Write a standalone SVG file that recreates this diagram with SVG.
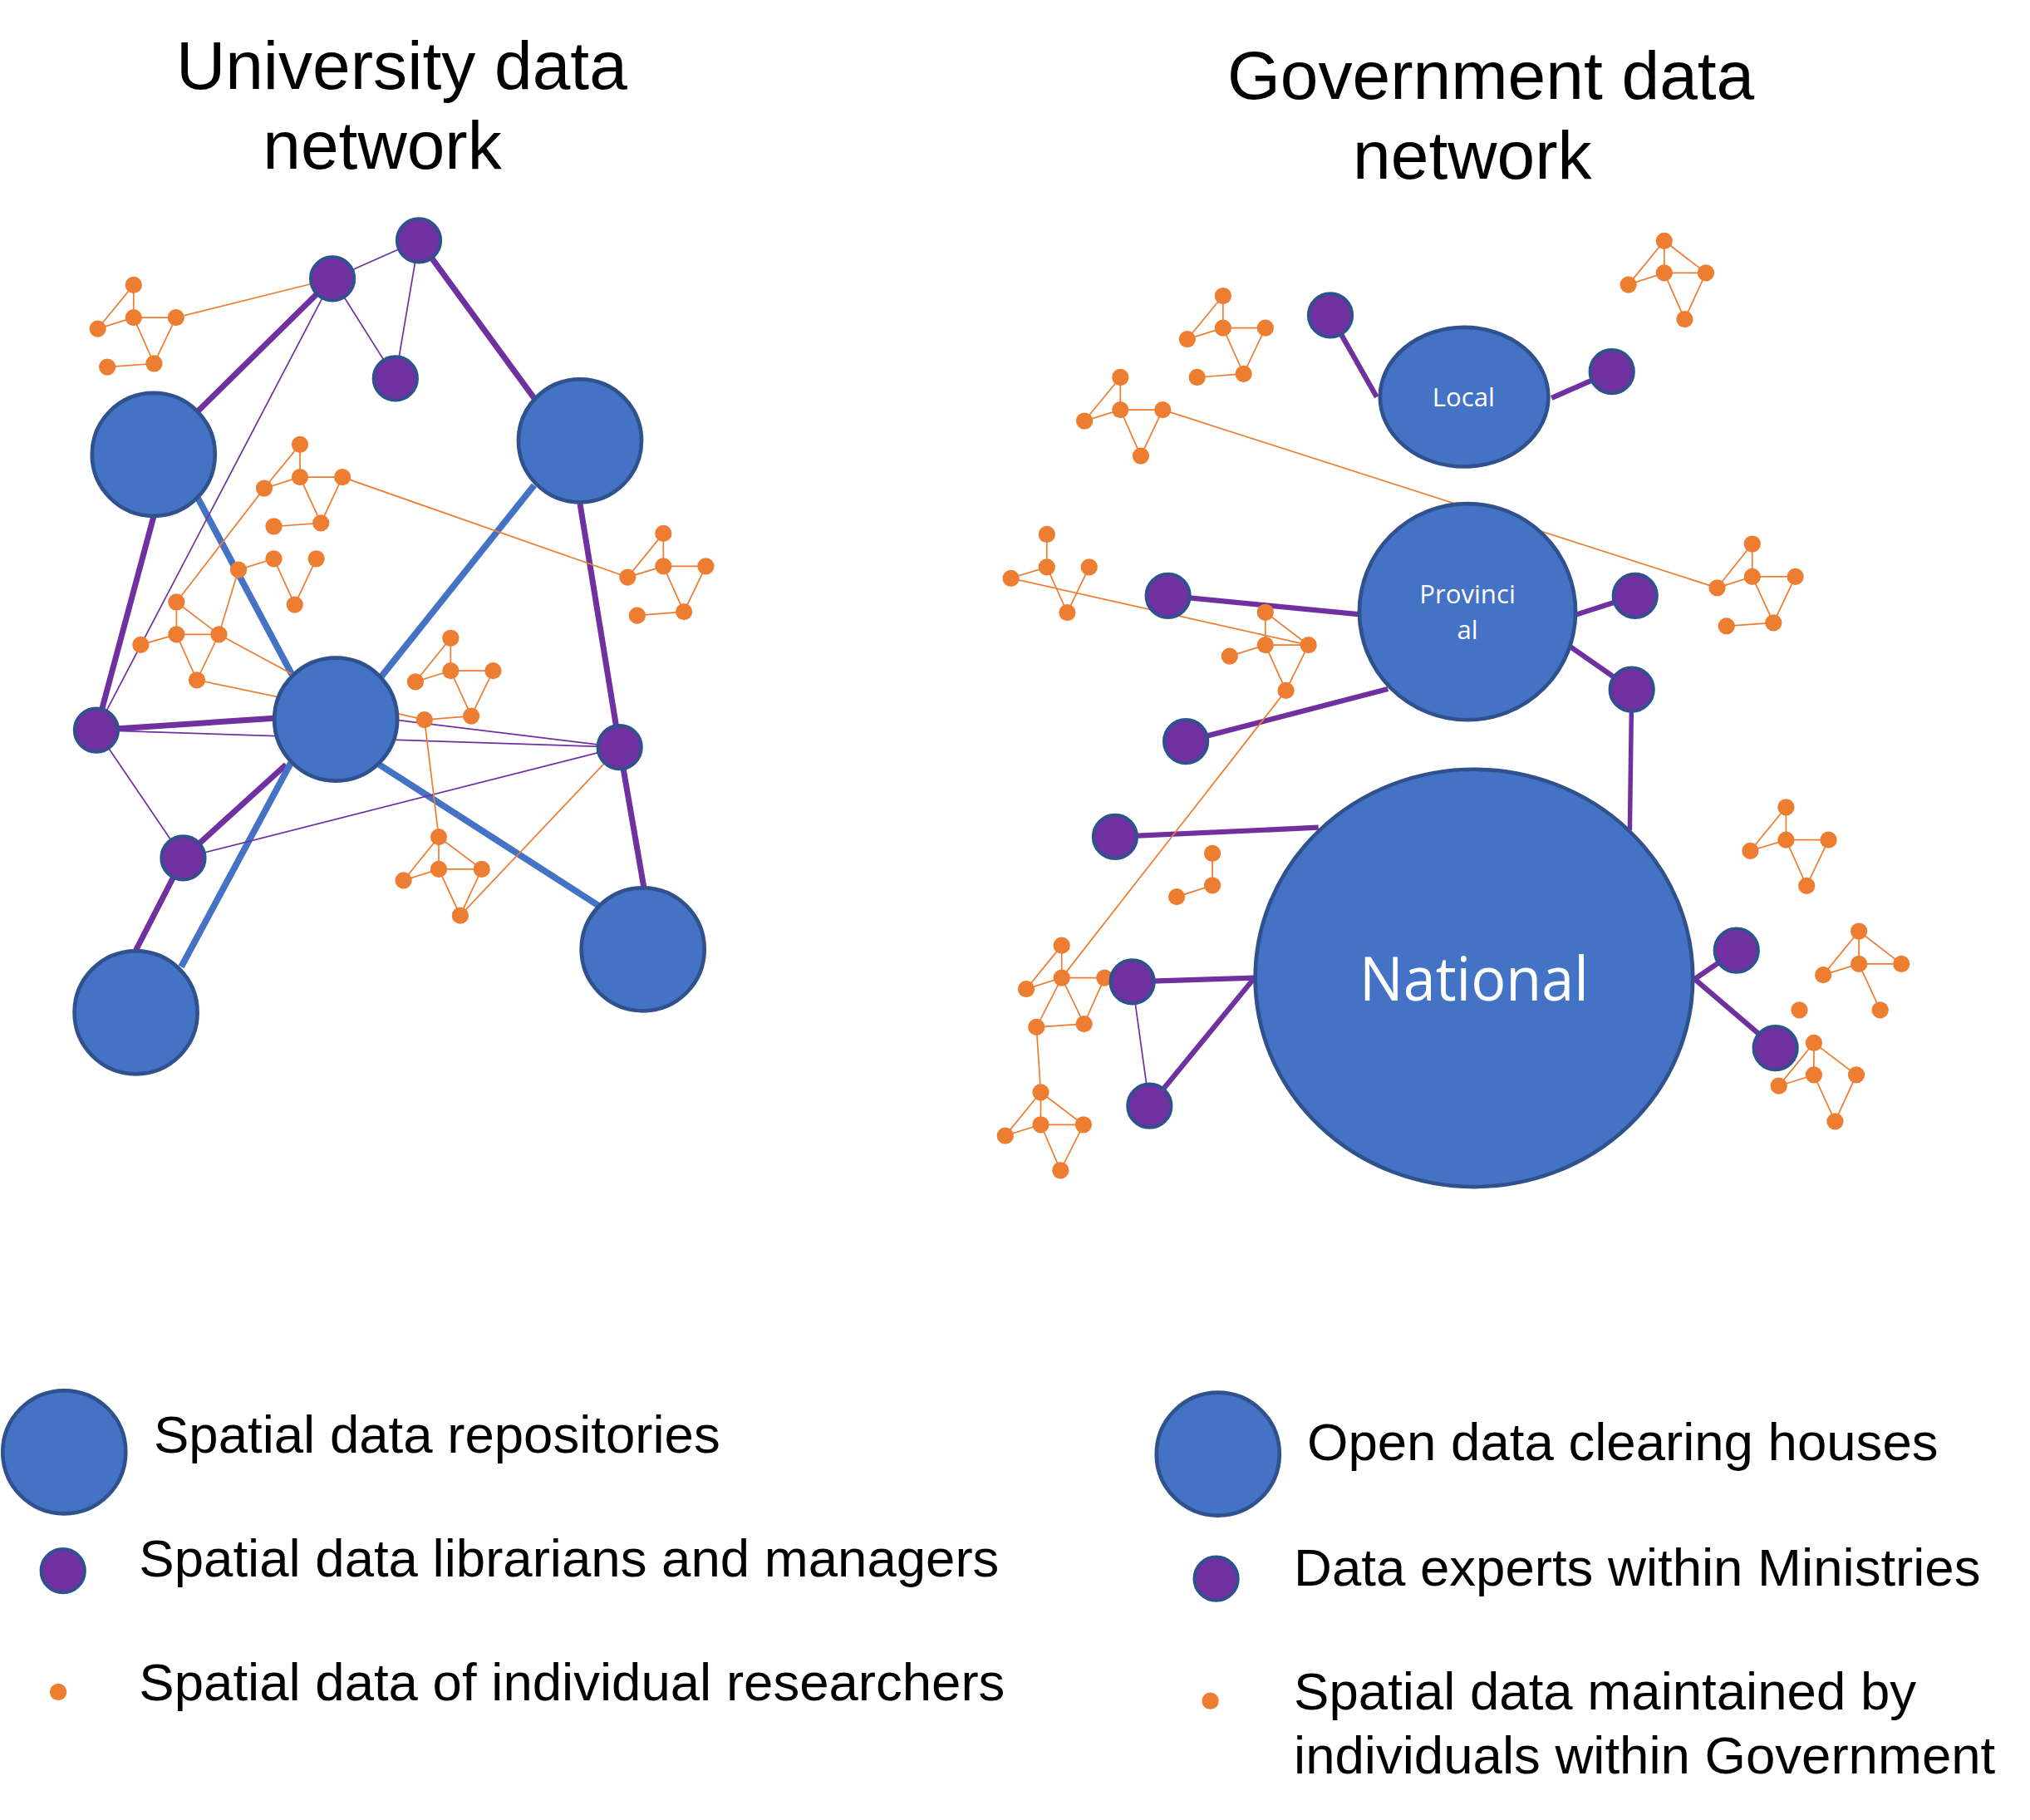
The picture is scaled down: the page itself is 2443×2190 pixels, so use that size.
<svg xmlns="http://www.w3.org/2000/svg" width="2443" height="2190" viewBox="0 0 2443 2190">
<style>
.blue{fill:#4472C4;stroke:#2F528F;stroke-width:3}
.purp{fill:#7030A0;stroke:#2F528F;stroke-width:2.5}
.dot{fill:#ED7D31}
.lp{stroke:#7030A0;stroke-width:4.5;fill:none}
.lp2{stroke:#7030A0;stroke-width:4;fill:none}
.lb{stroke:#4472C4;stroke-width:5;fill:none}
.lt{stroke:#7030A0;stroke-width:1.1;fill:none}
.lo{stroke:#ED7D31;stroke-width:1.1;fill:none}
.title{font-family:"Liberation Sans",Arial,sans-serif;font-size:52.7px;fill:#000}
.leg{font-family:"Liberation Sans",Arial,sans-serif;font-size:40.8px;fill:#000}
.lab{font-family:"Open Sans","Noto Sans",sans-serif;fill:#fff;text-anchor:middle}
</style>
<rect width="2443" height="2190" fill="#fff"/>
<g transform="scale(1.558)">
<g id="titles">
<text class="title" x="136" y="68.5">University data</text>
<text class="title" x="203" y="130">network</text>
<text class="title" x="948" y="76.5">Government data</text>
<text class="title" x="1045" y="138">network</text>
</g>
<g id="connectors">
<!-- university: thick purple -->
<line class="lp" x1="256.8" y1="215.2" x2="152.9" y2="317.5"/>
<line class="lp" x1="323.5" y1="185.7" x2="412.6" y2="307.5"/>
<line class="lp" x1="118.6" y1="399.1" x2="74.4" y2="563.9"/>
<line class="lp" x1="448" y1="389" x2="478.6" y2="577.1"/>
<line class="lp" x1="74.4" y1="563.9" x2="211.8" y2="554.7"/>
<line class="lp" x1="141.5" y1="662.7" x2="221" y2="590.5"/>
<line class="lp" x1="141.5" y1="662.7" x2="105" y2="733.8"/>
<line class="lp" x1="478.6" y1="577.1" x2="497.3" y2="685.1"/>
<!-- university: blue -->
<line class="lb" x1="152.9" y1="384.8" x2="225.5" y2="520.9"/>
<line class="lb" x1="412.6" y1="374.8" x2="294.7" y2="522.3"/>
<line class="lb" x1="224.7" y1="589.1" x2="140" y2="746.7"/>
<line class="lb" x1="292.9" y1="590.5" x2="462.3" y2="699.4"/>
<!-- university: thin purple -->
<line class="lt" x1="256.8" y1="215.2" x2="323.5" y2="185.7"/>
<line class="lt" x1="256.8" y1="215.2" x2="305.4" y2="292.3"/>
<line class="lt" x1="323.5" y1="185.7" x2="305.4" y2="292.3"/>
<line class="lt" x1="256.8" y1="215.2" x2="74.4" y2="563.9"/>
<line class="lt" x1="74.4" y1="563.9" x2="478.6" y2="577.1"/>
<line class="lt" x1="307.6" y1="556.2" x2="478.6" y2="577.1"/>
<line class="lt" x1="74.4" y1="563.9" x2="141.5" y2="662.7"/>
<line class="lt" x1="141.5" y1="662.7" x2="478.6" y2="577.1"/>
<!-- university: orange links -->
<line class="lo" x1="135.9" y1="245.3" x2="256.8" y2="215.2"/>
<line class="lo" x1="264.5" y1="368.5" x2="484.8" y2="445.8"/>
<line class="lo" x1="204.1" y1="377.1" x2="136.3" y2="465"/>
<line class="lo" x1="169.1" y1="490" x2="232" y2="524"/>
<line class="lo" x1="152.1" y1="525.2" x2="228" y2="541"/>
<line class="lo" x1="327.9" y1="555.9" x2="298" y2="549"/>
<line class="lo" x1="327.9" y1="555.9" x2="338.9" y2="646.4"/>
<line class="lo" x1="355.5" y1="707.1" x2="478.6" y2="577.1"/>
<!-- government: thick purple -->
<line class="lp2" x1="1027.6" y1="243.5" x2="1063.4" y2="306.6"/>
<line class="lp2" x1="1245" y1="287" x2="1198.5" y2="307.4"/>
<line class="lp2" x1="902.2" y1="460.1" x2="1049" y2="474.4"/>
<line class="lp2" x1="1263" y1="460.1" x2="1217" y2="474.9"/>
<line class="lp2" x1="1260.4" y1="532.5" x2="1212.8" y2="499.4"/>
<line class="lp2" x1="916" y1="572.6" x2="1072.1" y2="532.1"/>
<line class="lp2" style="stroke-width:3.5" x1="1260.4" y1="532.5" x2="1258.9" y2="641.2"/>
<line class="lp2" x1="861.3" y1="646.3" x2="1018.4" y2="639.1"/>
<line class="lp2" x1="874.6" y1="758.3" x2="969" y2="755.2"/>
<line class="lp2" x1="887.9" y1="854.1" x2="969" y2="755.2"/>
<line class="lp2" x1="1341.3" y1="734.1" x2="1309" y2="756.2"/>
<line class="lp2" x1="1371.4" y1="809.4" x2="1309" y2="756.2"/>
<line class="lt" x1="874.6" y1="758.3" x2="887.9" y2="854.1"/>
<!-- government: orange links -->
<line class="lo" x1="898.1" y1="316.5" x2="1326.4" y2="454"/>
<line class="lo" x1="780.9" y1="446.6" x2="1010.7" y2="498.2"/>
<line class="lo" x1="993.3" y1="533.3" x2="820.1" y2="755.2"/>
<line class="lo" x1="800.6" y1="793.3" x2="803.9" y2="843.6"/>
</g>
<g id="clusters">
<g id="cluster-a"><path class="lo" d="M103.2,220.1L103.2,245.3M103.2,220.1L75.5,253.9L103.2,245.3L135.9,245.3L119,280.8L103.2,245.3M82.9,283.4L119,280.8"/>
<g class="dot"><circle cx="103.2" cy="220.1" r="6.5"/><circle cx="75.5" cy="253.9" r="6.5"/><circle cx="103.2" cy="245.3" r="6.5"/><circle cx="135.9" cy="245.3" r="6.5"/><circle cx="82.9" cy="283.4" r="6.5"/><circle cx="119" cy="280.8" r="6.5"/></g></g>
<g id="cluster-b"><path class="lo" d="M231.7,343.3L231.7,368.5M231.7,343.3L204.1,377.1L231.7,368.5L264.5,368.5L247.9,404L231.7,368.5M211.5,406.6L247.9,404"/>
<g class="dot"><circle cx="231.7" cy="343.3" r="6.5"/><circle cx="204.1" cy="377.1" r="6.5"/><circle cx="231.7" cy="368.5" r="6.5"/><circle cx="264.5" cy="368.5" r="6.5"/><circle cx="211.5" cy="406.6" r="6.5"/><circle cx="247.9" cy="404" r="6.5"/></g></g>
<g id="cluster-c"><path class="lo" d="M184.2,440.1L211.5,431.5L227.7,467L244.3,431.5M136.3,465L136.3,490M136.3,465L169.1,490M108.7,498L136.3,490L169.1,490M136.3,490L152.1,525.2L169.1,490L184.2,440.1"/>
<g class="dot"><circle cx="184.2" cy="440.1" r="6.5"/><circle cx="211.5" cy="431.5" r="6.5"/><circle cx="244.3" cy="431.5" r="6.5"/><circle cx="227.7" cy="467" r="6.5"/><circle cx="136.3" cy="465" r="6.5"/><circle cx="136.3" cy="490" r="6.5"/><circle cx="169.1" cy="490" r="6.5"/><circle cx="108.7" cy="498" r="6.5"/><circle cx="152.1" cy="525.2" r="6.5"/></g></g>
<g id="cluster-d"><path class="lo" d="M348.1,492.8L348.1,518M348.1,492.8L320.9,526.6L348.1,518L380.9,518L364,553L348.1,518M327.9,555.9L364,553"/>
<g class="dot"><circle cx="348.1" cy="492.8" r="6.5"/><circle cx="320.9" cy="526.6" r="6.5"/><circle cx="348.1" cy="518" r="6.5"/><circle cx="380.9" cy="518" r="6.5"/><circle cx="327.9" cy="555.9" r="6.5"/><circle cx="364" cy="553" r="6.5"/></g></g>
<g id="cluster-e"><path class="lo" d="M338.9,646.4L338.9,671.3M338.9,646.4L311.7,680L338.9,671.3L372.1,671.3L338.9,646.4M338.9,671.3L355.5,707.1L372.1,671.3"/>
<g class="dot"><circle cx="338.9" cy="646.4" r="6.5"/><circle cx="311.7" cy="680" r="6.5"/><circle cx="338.9" cy="671.3" r="6.5"/><circle cx="372.1" cy="671.3" r="6.5"/><circle cx="355.5" cy="707.1" r="6.5"/></g></g>
<g id="cluster-f"><path class="lo" d="M512.4,412L512.4,437.3M512.4,412L484.8,445.8L512.4,437.3L545.2,437.3L528.3,472.5L512.4,437.3M492.2,475.4L528.3,472.5"/>
<g class="dot"><circle cx="512.4" cy="412" r="6.5"/><circle cx="484.8" cy="445.8" r="6.5"/><circle cx="512.4" cy="437.3" r="6.5"/><circle cx="545.2" cy="437.3" r="6.5"/><circle cx="492.2" cy="475.4" r="6.5"/><circle cx="528.3" cy="472.5" r="6.5"/></g></g>
<g id="cluster-r1"><path class="lo" d="M1285.5,186L1285.5,210.8M1285.5,186L1257.8,219.9L1285.5,210.8L1317.7,210.8L1285.5,186M1285.5,210.8L1301.3,246.5L1317.7,210.8"/>
<g class="dot"><circle cx="1285.5" cy="186" r="6.5"/><circle cx="1257.8" cy="219.9" r="6.5"/><circle cx="1285.5" cy="210.8" r="6.5"/><circle cx="1317.7" cy="210.8" r="6.5"/><circle cx="1301.3" cy="246.5" r="6.5"/></g></g>
<g id="cluster-r2"><path class="lo" d="M944.7,228.5L944.7,253.3M944.7,228.5L917.1,261.9L944.7,253.3L977.4,253.3L960.6,288.7L944.7,253.3M924.7,291.4L960.6,288.7"/>
<g class="dot"><circle cx="944.7" cy="228.5" r="6.5"/><circle cx="917.1" cy="261.9" r="6.5"/><circle cx="944.7" cy="253.3" r="6.5"/><circle cx="977.4" cy="253.3" r="6.5"/><circle cx="924.7" cy="291.4" r="6.5"/><circle cx="960.6" cy="288.7" r="6.5"/></g></g>
<g id="cluster-r3"><path class="lo" d="M865.4,291.4L865.4,316.5M865.4,291.4L837.7,325.1L865.4,316.5L898.1,316.5L881.2,352.1L865.4,316.5"/>
<g class="dot"><circle cx="865.4" cy="291.4" r="6.5"/><circle cx="837.7" cy="325.1" r="6.5"/><circle cx="865.4" cy="316.5" r="6.5"/><circle cx="898.1" cy="316.5" r="6.5"/><circle cx="881.2" cy="352.1" r="6.5"/></g></g>
<g id="cluster-r4"><path class="lo" d="M1353.5,420.1L1353.5,445.4M1353.5,420.1L1326.4,454L1353.5,445.4L1386.8,445.4L1369.9,481L1353.5,445.4M1333.6,483.5L1369.9,481"/>
<g class="dot"><circle cx="1353.5" cy="420.1" r="6.5"/><circle cx="1326.4" cy="454" r="6.5"/><circle cx="1353.5" cy="445.4" r="6.5"/><circle cx="1386.8" cy="445.4" r="6.5"/><circle cx="1333.6" cy="483.5" r="6.5"/><circle cx="1369.9" cy="481" r="6.5"/></g></g>
<g id="cluster-r5"><path class="lo" d="M808.6,412.7L808.6,438M780.9,446.6L808.6,438L824.4,473.1L841.3,438"/>
<g class="dot"><circle cx="808.6" cy="412.7" r="6.5"/><circle cx="780.9" cy="446.6" r="6.5"/><circle cx="808.6" cy="438" r="6.5"/><circle cx="841.3" cy="438" r="6.5"/><circle cx="824.4" cy="473.1" r="6.5"/></g></g>
<g id="cluster-r6"><path class="lo" d="M977.4,472.9L977.4,498.2M949.8,506.8L977.4,498.2L1010.7,498.2L977.4,472.9M977.4,498.2L993.3,533.3L1010.7,498.2"/>
<g class="dot"><circle cx="977.4" cy="472.9" r="6.5"/><circle cx="949.8" cy="506.8" r="6.5"/><circle cx="977.4" cy="498.2" r="6.5"/><circle cx="1010.7" cy="498.2" r="6.5"/><circle cx="993.3" cy="533.3" r="6.5"/></g></g>
<g id="cluster-r7"><path class="lo" d="M936.5,659.1L936.5,683.8L908.9,692.6"/>
<g class="dot"><circle cx="936.5" cy="659.1" r="6.5"/><circle cx="936.5" cy="683.8" r="6.5"/><circle cx="908.9" cy="692.6" r="6.5"/></g></g>
<g id="cluster-r8"><path class="lo" d="M1379.6,623.4L1379.6,648.7M1379.6,623.4L1352,657.2L1379.6,648.7L1412.4,648.7L1395.5,684.1L1379.6,648.7"/>
<g class="dot"><circle cx="1379.6" cy="623.4" r="6.5"/><circle cx="1352" cy="657.2" r="6.5"/><circle cx="1379.6" cy="648.7" r="6.5"/><circle cx="1412.4" cy="648.7" r="6.5"/><circle cx="1395.5" cy="684.1" r="6.5"/></g></g>
<g id="cluster-r9"><path class="lo" d="M820.1,730.2L820.1,755.2M820.1,730.2L792.7,763.9L820.1,755.2L853.2,755.2L837.4,790.8L820.1,755.2L800.6,793.3L837.4,790.8"/>
<g class="dot"><circle cx="820.1" cy="730.2" r="6.5"/><circle cx="792.7" cy="763.9" r="6.5"/><circle cx="820.1" cy="755.2" r="6.5"/><circle cx="853.2" cy="755.2" r="6.5"/><circle cx="800.6" cy="793.3" r="6.5"/><circle cx="837.4" cy="790.8" r="6.5"/></g></g>
<g id="cluster-r10"><path class="lo" d="M1435.9,719.2L1435.9,744.5M1435.9,719.2L1408.3,753L1435.9,744.5L1468.7,744.5L1435.9,719.2M1435.9,744.5L1452.3,780.1"/>
<g class="dot"><circle cx="1435.9" cy="719.2" r="6.5"/><circle cx="1408.3" cy="753" r="6.5"/><circle cx="1435.9" cy="744.5" r="6.5"/><circle cx="1468.7" cy="744.5" r="6.5"/><circle cx="1452.3" cy="780.1" r="6.5"/><circle cx="1389.9" cy="780.1" r="6.5"/></g></g>
<g id="cluster-r11"><path class="lo" d="M1401.1,805.4L1401.1,830.2M1401.1,805.4L1374,838.7L1401.1,830.2M1401.1,805.4L1433.9,830.2L1417.5,866.1L1401.1,830.2"/>
<g class="dot"><circle cx="1401.1" cy="805.4" r="6.5"/><circle cx="1374" cy="838.7" r="6.5"/><circle cx="1401.1" cy="830.2" r="6.5"/><circle cx="1433.9" cy="830.2" r="6.5"/><circle cx="1417.5" cy="866.1" r="6.5"/></g></g>
<g id="cluster-r12"><path class="lo" d="M803.9,843.6L803.9,868.6M803.9,843.6L776.5,877.2L803.9,868.6L836.9,868.6L803.9,843.6M803.9,868.6L819.2,903.9L836.9,868.6"/>
<g class="dot"><circle cx="803.9" cy="843.6" r="6.5"/><circle cx="776.5" cy="877.2" r="6.5"/><circle cx="803.9" cy="868.6" r="6.5"/><circle cx="836.9" cy="868.6" r="6.5"/><circle cx="819.2" cy="903.9" r="6.5"/></g></g>
</g>
<g id="repo-1"><circle class="blue" cx="118.6" cy="351" r="47.5"/></g>
<g id="repo-2"><circle class="blue" cx="448" cy="340.4" r="47.5"/></g>
<g id="repo-3"><circle class="blue" cx="259.4" cy="555.6" r="47.5"/></g>
<g id="repo-4"><circle class="blue" cx="105" cy="782" r="47.5"/></g>
<g id="repo-5"><circle class="blue" cx="496.6" cy="733.2" r="47.5"/></g>
<g id="lib-1"><circle class="purp" cx="256.8" cy="215.2" r="16.8"/></g>
<g id="lib-2"><circle class="purp" cx="323.5" cy="185.7" r="16.8"/></g>
<g id="lib-3"><circle class="purp" cx="305.4" cy="292.3" r="16.8"/></g>
<g id="lib-4"><circle class="purp" cx="74.4" cy="563.9" r="16.8"/></g>
<g id="lib-5"><circle class="purp" cx="478.6" cy="577.1" r="16.8"/></g>
<g id="lib-6"><circle class="purp" cx="141.5" cy="662.7" r="16.8"/></g>
<g id="local"><ellipse class="blue" cx="1131" cy="306.6" rx="65" ry="53.8"/><text class="lab" x="1130.5" y="314" font-size="20">Local</text></g>
<g id="provincial"><circle class="blue" cx="1133.5" cy="472.5" r="83.5"/><text class="lab" x="1133.5" y="465.8" font-size="20">Provinci</text><text class="lab" x="1133.5" y="493.8" font-size="20">al</text></g>
<g id="national"><ellipse class="blue" cx="1138.6" cy="755.4" rx="169" ry="161.2"/><text class="lab" x="1138.6" y="773" font-size="47" textLength="177" lengthAdjust="spacingAndGlyphs">National</text></g>
<g id="expert-1"><circle class="purp" cx="1027.6" cy="243.5" r="16.8"/></g>
<g id="expert-2"><circle class="purp" cx="1245" cy="287" r="16.8"/></g>
<g id="expert-3"><circle class="purp" cx="902.2" cy="460.1" r="16.8"/></g>
<g id="expert-4"><circle class="purp" cx="1263" cy="460.1" r="16.8"/></g>
<g id="expert-5"><circle class="purp" cx="1260.4" cy="532.5" r="16.8"/></g>
<g id="expert-6"><circle class="purp" cx="916" cy="572.6" r="16.8"/></g>
<g id="expert-7"><circle class="purp" cx="861.3" cy="646.3" r="16.8"/></g>
<g id="expert-8"><circle class="purp" cx="874.6" cy="758.3" r="16.8"/></g>
<g id="expert-9"><circle class="purp" cx="887.9" cy="854.1" r="16.8"/></g>
<g id="expert-10"><circle class="purp" cx="1341.3" cy="734.1" r="16.8"/></g>
<g id="expert-11"><circle class="purp" cx="1371.4" cy="809.4" r="16.8"/></g>
<g id="legend">
<circle class="blue" cx="49.6" cy="1121.5" r="47.5"/>
<text class="leg" x="118.7" y="1122">Spatial data repositories</text>
<circle class="purp" cx="48.6" cy="1213.2" r="16.8"/>
<text class="leg" x="107.4" y="1217.4">Spatial data librarians and managers</text>
<circle class="dot" cx="45" cy="1306.8" r="6.5"/>
<text class="leg" x="107.4" y="1313.2">Spatial data of individual researchers</text>
<circle class="blue" cx="940.8" cy="1123" r="47.5"/>
<text class="leg" x="1009.6" y="1127.5">Open data clearing houses</text>
<circle class="purp" cx="939.4" cy="1219.3" r="16.8"/>
<text class="leg" x="999.4" y="1224.5">Data experts within Ministries</text>
<circle class="dot" cx="934.9" cy="1313.7" r="6.5"/>
<text class="leg" x="999.4" y="1320.4">Spatial data maintained by</text>
<text class="leg" x="999.4" y="1369.4">individuals within Government</text>
</g>
</g>
</svg>
